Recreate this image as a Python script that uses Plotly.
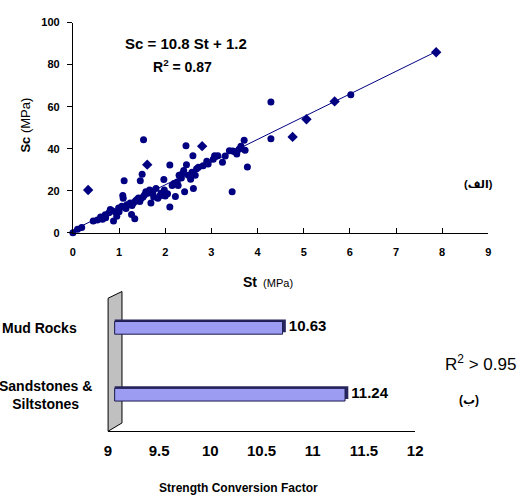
import plotly.graph_objects as go

# ---------------- data ----------------
# scatter (St in MPa, Sc in MPa) - circles
st_circ = [0.0, 0.1, 0.19, 0.44, 0.53, 0.64, 0.71, 0.78, 0.81, 0.88, 0.92, 0.95, 0.99, 1.06, 1.08, 1.09,
           1.11, 1.17, 1.27, 1.24, 1.31, 1.34, 1.38, 1.45, 1.46, 1.48, 1.5, 1.53, 1.55, 1.62, 1.66, 1.69,
           1.73, 1.8, 1.84, 1.91, 1.94, 1.98, 2.1, 2.1, 2.19, 2.22, 2.26, 2.3, 2.37, 2.4, 2.42, 2.45,
           2.46, 2.5, 2.58, 2.61, 2.6, 2.65, 2.72, 2.82, 2.93, 3.04, 3.07, 3.14, 3.24, 3.39, 3.45, 3.5,
           3.6, 3.64, 3.71, 3.73, 3.78, 4.29, 4.29, 6.02, 1.97,
           0.6, 0.7, 0.85, 1.0, 1.12, 1.15, 1.28, 1.35, 1.42, 1.52, 1.58, 1.7, 1.75, 1.88, 2.0, 2.05,
           2.15, 2.28, 2.35, 2.55, 2.68, 2.9, 3.3, 3.55, 3.46]
sc_circ = [0.0, 1.7, 2.5, 5.6, 6.0, 6.4, 7.1, 9.5, 11.0, 5.6, 9.9, 7.9, 11.8, 12.6, 17.7, 16.4,
           24.7, 13.3, 8.7, 14.1, 14.1, 6.7, 15.7, 14.9, 24.7, 16.4, 27.8, 44.3, 18.0, 18.8, 20.3, 14.1,
           18.8, 21.1, 16.4, 18.8, 18.0, 20.3, 32.2, 12.2, 23.4, 17.2, 24.2, 27.3, 28.1, 29.6, 19.5, 41.4,
           32.4, 27.3, 28.8, 21.1, 36.6, 27.3, 31.2, 31.9, 32.7, 35.0, 36.6, 36.6, 33.6, 39.0, 19.5, 38.6,
           39.7, 41.2, 44.0, 39.2, 31.3, 44.7, 62.2, 65.7, 25.3,
           7.5, 8.5, 10.5, 10.0, 12.0, 11.5, 13.0, 15.0, 16.5, 17.0, 19.5, 19.8, 17.0, 17.5, 17.5, 18.5,
           22.5, 22.5, 26.0, 25.5, 30.5, 34.0, 36.5, 37.5, 38.9]
# diamonds
st_diam = [0.33, 1.61, 2.8, 4.76, 5.06, 5.67, 7.87]
sc_diam = [20.3, 32.4, 41.2, 45.6, 54.0, 62.5, 85.9]

slope, intercept, r2_fit = 10.8, 1.2, 0.87

# bar chart
categories = ["Mud Rocks", "Sandstones &<br>Siltstones"]
factors = [10.63, 11.24]
bar_base = 9.0

# ---------------- layout helpers ----------------
W, H = 532, 501
def fx(px):
    return px / W
def fy(py):
    return 1 - py / H

FONT = "Liberation Sans, Arial, DejaVu Sans, sans-serif"
NAVY = "#000080"

fig = go.Figure()

# scatter points
fig.add_trace(go.Scatter(x=st_circ, y=sc_circ, mode="markers",
                         marker=dict(symbol="circle", size=7, color=NAVY),
                         xaxis="x", yaxis="y", showlegend=False, cliponaxis=False))
fig.add_trace(go.Scatter(x=st_diam, y=sc_diam, mode="markers",
                         marker=dict(symbol="diamond", size=8, color=NAVY),
                         xaxis="x", yaxis="y", showlegend=False, cliponaxis=False))
# trend line
xmax = max(st_circ + st_diam)
fig.add_trace(go.Scatter(x=[0, xmax], y=[intercept, slope * xmax + intercept], mode="lines",
                         line=dict(color=NAVY, width=1), xaxis="x", yaxis="y", showlegend=False))

# bars drawn in the "back" plane of a 3D chart: shifted right by the depth offset
depth = 0.075          # perspective shift of the bar plane (axis units)
side = 0.032           # thickness of dark side face
front_start = bar_base + 0.066
fig.add_trace(go.Bar(y=categories, x=[v + depth + side - front_start for v in factors],
                     base=[front_start] * 2,
                     orientation="h", width=0.19, offset=-0.095 - 0.03,
                     marker=dict(color="#27275e", line=dict(width=0)),
                     text=[f"{v:.2f}" for v in factors], textposition="outside",
                     constraintext="none",
                     textfont=dict(family=FONT, size=15, color="black", weight="bold"),
                     cliponaxis=False, xaxis="x2", yaxis="y2", showlegend=False, hoverinfo="skip"))
fig.add_trace(go.Bar(y=categories, x=[v + depth - front_start for v in factors],
                     base=[front_start] * 2,
                     orientation="h", width=0.19, offset=-0.095,
                     marker=dict(color="#9c9cf2", line=dict(color="#1c1c4c", width=1)),
                     xaxis="x2", yaxis="y2", showlegend=False))

axis_common = dict(showgrid=False, zeroline=False, showline=True, linecolor="black", linewidth=1)

fig.update_layout(
    width=W, height=H,
    margin=dict(l=0, r=0, t=0, b=0),
    paper_bgcolor="white", plot_bgcolor="rgba(0,0,0,0)",
    font=dict(family=FONT, color="black"),
    barmode="overlay",
    xaxis=dict(domain=[fx(70.5), fx(495.5)], range=[0, 9], dtick=1, anchor="y",
               ticks="inside", ticklen=5, tickcolor="black", ticklabelstandoff=9,
               tickfont=dict(size=11, weight="bold"), **axis_common),
    yaxis=dict(domain=[fy(232.3), fy(17)], range=[0, 100], dtick=20, anchor="x",
               ticks="outside", ticklen=5, tickcolor="black", ticklabelstandoff=5,
               tickfont=dict(size=11, weight="bold"), **axis_common),
    xaxis2=dict(domain=[fx(106.3), fx(420.7)], range=[9, 12], dtick=0.5, anchor="y2",
                ticks="", ticklabelstandoff=6,
                tickfont=dict(size=15, weight="bold"), **axis_common),
    yaxis2=dict(domain=[fy(435.7), fy(295.5)], type="category", range=[1.547, -0.5],
                anchor="x2", showticklabels=False, showline=False, showgrid=False, zeroline=False),
)

# grey 3D wall of the bar chart
wall = [(106.5, 299.4), (120.7, 292.5), (120.7, 427.2), (106.5, 435.7)]
path = "M " + " L ".join(f"{fx(a):.5f},{fy(b):.5f}" for a, b in wall) + " Z"
fig.add_shape(type="path", path=path, xref="paper", yref="paper",
              fillcolor="#c0c0c0", line=dict(color="black", width=1), layer="below")

ann = []
ann.append(dict(x=fx(186), y=fy(38), text=f"<b>Sc = {slope} St + {intercept}</b>", font=dict(size=15)))
ann.append(dict(x=fx(183), y=fy(61), text=f"<b>R<sup>2</sup> = {r2_fit}</b>", font=dict(size=14)))
ann.append(dict(x=fx(485), y=fy(182), text="<b>(الف)</b>", font=dict(size=11)))
ann.append(dict(x=fx(22), y=fy(122), text="<b>Sc</b> (MPa)", textangle=-90, font=dict(size=13)))
ann.append(dict(x=fx(270), y=fy(283), text="<b><span style='font-size:14px'>St</span></b>  (MPa)",
                font=dict(size=11)))
ann.append(dict(x=fx(487), y=fy(366), text="R<sup>2</sup> > 0.95", font=dict(size=17)))
ann.append(dict(x=fx(476), y=fy(404), text="<b>(ب)</b>", font=dict(size=12)))
ann.append(dict(x=fx(240), y=fy(494), text="<b>Strength Conversion Factor</b>", font=dict(size=12)))
for i, c in enumerate(categories):
    ann.append(dict(x=fx(36 if i == 0 else 42), y=c, yref="y2", text=f"<b>{c}</b>",
                    font=dict(size=14), align="center"))
for a in ann:
    a.setdefault("xref", "paper")
    a.setdefault("yref", "paper")
    a.update(showarrow=False, xanchor="center", yanchor="middle")
    a["font"].setdefault("family", FONT)
    a["font"].setdefault("color", "black")
fig.update_layout(annotations=ann)

fig.write_html("out.html")
